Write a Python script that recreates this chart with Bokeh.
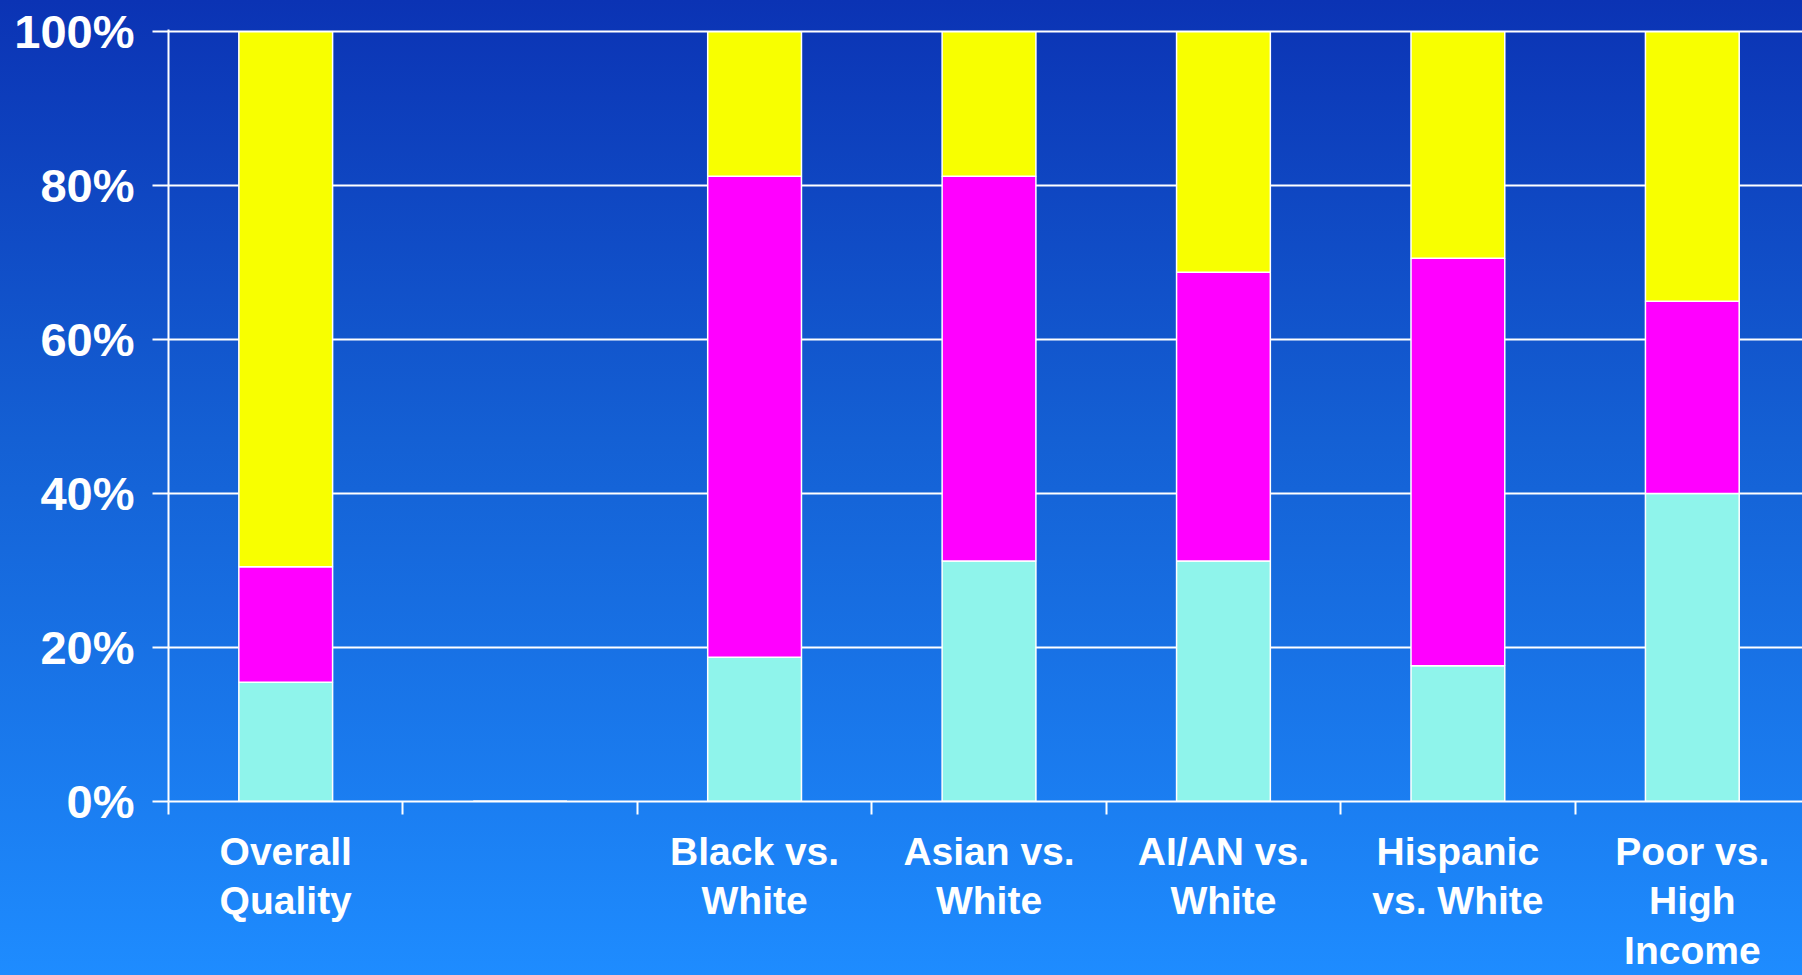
from bokeh.plotting import figure
from bokeh.models import Range1d, FixedTicker, PrintfTickFormatter
from bokeh.embed import file_html
from bokeh.resources import INLINE

# Share of measures in each comparison, stacked bottom to top
categories = ["Overall\nQuality", "", "Black vs.\nWhite", "Asian vs.\nWhite",
              "AI/AN vs.\nWhite", "Hispanic\nvs. White", "Poor vs.\nHigh\nIncome"]
better = [15.5, 0.0, 18.75, 31.25, 31.25, 17.65, 40.0]
same = [15.0, 0.0, 62.5, 50.0, 37.5, 52.94, 25.0]
worse = [69.5, 0.0, 18.75, 18.75, 31.25, 29.41, 35.0]
y_ticks = [0, 20, 40, 60, 80, 100]

series = ["better", "same", "worse"]
colors = ["#8FF4EB", "#FF00FF", "#F8FF00"]

centers = [i + 0.5 for i in range(len(categories))]
source = dict(x=centers, better=better, same=same, worse=worse)

p = figure(width=1802, height=975, output_backend="svg", toolbar_location=None,
           x_range=Range1d(0, 6.97), y_range=Range1d(0, 100.3),
           min_border_left=168, min_border_right=0, min_border_top=29,
           min_border_bottom=174)

p.background_fill_alpha = 0
p.border_fill_alpha = 0
p.outline_line_color = None
p.styles = {"background": "linear-gradient(to bottom, #0B33B4 0%, #1460D4 45%, #1E8CFF 100%)"}

p.vbar_stack(series, x="x", width=0.4, source=source, color=colors,
             line_color="white", line_width=1.5)

# x axis: boundary ticks as minor ticks, labels at category centers
xa = p.xaxis[0]
xa.ticker = FixedTicker(ticks=centers, minor_ticks=list(range(0, 8)))
xa.major_label_overrides = {c: lab for c, lab in zip(centers, categories)}
xa.major_tick_out = 0
xa.major_tick_in = 0
xa.minor_tick_out = 13
xa.minor_tick_in = 0
xa.minor_tick_line_color = "white"
xa.minor_tick_line_width = 2
xa.axis_line_color = "white"
xa.axis_line_width = 2
xa.major_label_text_color = "white"
xa.major_label_text_font = "Liberation Sans"
xa.major_label_text_font_style = "bold"
xa.major_label_text_font_size = "39px"
xa.major_label_text_line_height = 1.16
xa.major_label_standoff = 15

ya = p.yaxis[0]
ya.ticker = FixedTicker(ticks=y_ticks)
ya.formatter = PrintfTickFormatter(format="%d%%")
ya.major_tick_out = 16
ya.major_tick_in = 0
ya.minor_tick_line_color = None
ya.major_tick_line_color = "white"
ya.major_tick_line_width = 2
ya.axis_line_color = "white"
ya.axis_line_width = 2
ya.major_label_text_color = "white"
ya.major_label_text_font = "Liberation Sans"
ya.major_label_text_font_style = "bold"
ya.major_label_text_font_size = "47px"
ya.major_label_standoff = 18

p.xgrid.grid_line_color = None
p.ygrid.ticker = FixedTicker(ticks=y_ticks)
p.ygrid.grid_line_color = "white"
p.ygrid.grid_line_width = 2

html = file_html(p, INLINE)
html = html.replace("<body>", '<body style="margin:0;background:#1E8CFF;">', 1)
open("out.html", "w").write(html)
